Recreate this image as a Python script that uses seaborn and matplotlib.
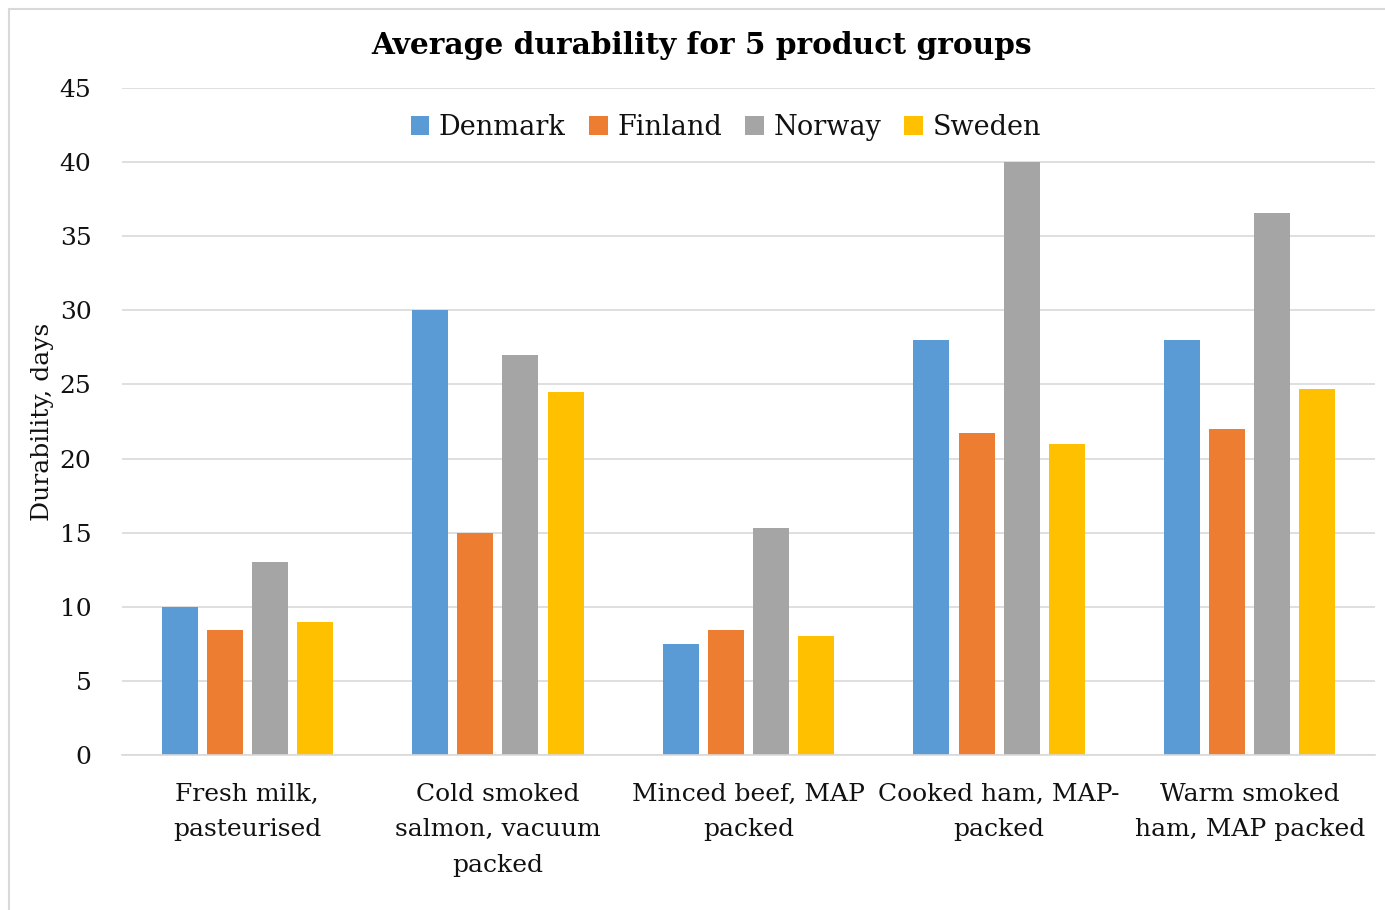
import matplotlib
matplotlib.use("Agg")
import matplotlib.pyplot as plt
import seaborn as sns
import pandas as pd
from matplotlib.patches import Rectangle

products = ["Fresh milk,\npasteurised", "Cold smoked\nsalmon, vacuum\npacked",
            "Minced beef, MAP\npacked", "Cooked ham, MAP-\npacked",
            "Warm smoked\nham, MAP packed"]
countries = ["Denmark", "Finland", "Norway", "Sweden"]
denmark = [10, 30, 7.5, 28, 28]
finland = [8.4, 15, 8.4, 21.7, 22]
norway = [13, 27, 15.3, 40, 36.6]
sweden = [9, 24.5, 8, 21, 24.7]
colors = ["#5B9BD5", "#ED7D31", "#A5A5A5", "#FFC000"]

rows = []
for country, vals in zip(countries, [denmark, finland, norway, sweden]):
    for p, v in zip(products, vals):
        rows.append({"product": p, "country": country, "days": v})
df = pd.DataFrame(rows)

sns.set_style("white")
plt.rcParams["font.family"] = ["DejaVu Serif"]

fig = plt.figure(figsize=(13.85, 9.1), dpi=100)
ax = fig.add_axes([122 / 1385, 1 - 755 / 910, 1253 / 1385, 667 / 910])

sns.barplot(data=df, x="product", y="days", hue="country", order=products,
            hue_order=countries, palette=colors, width=0.72, gap=0.2,
            saturation=1, linewidth=0, ax=ax, errorbar=None)

ax.set_ylim(0, 45)
ax.set_xlim(-0.5, 4.5)
ax.set_yticks(range(0, 46, 5))
ax.yaxis.grid(True, color="#D9D9D9", linewidth=1.2)
ax.set_axisbelow(True)
for s in ["top", "right", "left"]:
    ax.spines[s].set_visible(False)
ax.spines["bottom"].set_color("#D9D9D9")
ax.spines["bottom"].set_linewidth(1.2)
ax.tick_params(axis="both", length=0, labelsize=18, colors="#111111")
ax.tick_params(axis="y", pad=22)
ax.tick_params(axis="x", pad=20)
for lbl in ax.get_xticklabels():
    lbl.set_linespacing(1.7)
ax.set_xlabel("")
ax.set_ylabel("Durability, days", fontsize=18, labelpad=4, color="#111111")

ax.legend(loc="upper center", bbox_to_anchor=(0.482, 0.997), ncol=4, frameon=False,
          fontsize=19.5, handlelength=0.7, handleheight=0.7, handletextpad=0.35,
          columnspacing=0.85, labelcolor="#111111")

fig.text(702 / 1385, 1 - 46 / 910, "Average durability for 5 product groups",
         ha="center", va="center", fontsize=21.3, fontweight="bold", color="black")

fig.patches.append(Rectangle((9 / 1385, -0.05), 1.0, 1 - 9 / 910 + 0.05,
                             transform=fig.transFigure, fill=False,
                             edgecolor="#D9D9D9", linewidth=1.5))

fig.savefig("out.png", dpi=100)
